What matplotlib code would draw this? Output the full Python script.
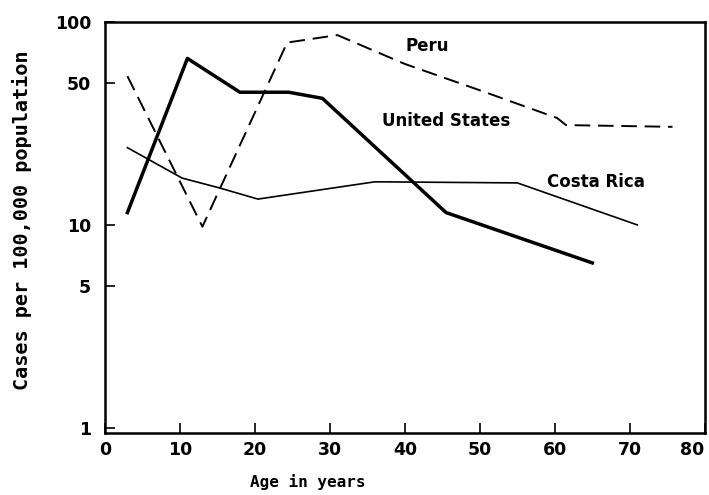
import matplotlib
matplotlib.use("Agg")
import matplotlib.pyplot as plt

us_age = [3, 11, 18, 24.5, 29, 45.5, 65]
us_val = [11.5, 66, 45, 45, 42, 11.5, 6.5]

peru_age = [3, 13, 24.3, 31, 40, 50, 60.3, 61.5, 75.7]
peru_val = [54, 9.8, 79, 86, 62, 46, 33.6, 31, 30.4]

cr_age = [3, 10.3, 15.3, 20.4, 36, 55, 71]
cr_val = [24, 17, 15.2, 13.4, 16.3, 16.1, 10]

x_ticks = [0, 10, 20, 30, 40, 50, 60, 70, 80]
y_ticks = [1, 5, 10, 50, 100]
y_tick_labels = ["1", "5", "10", "50", "100"]

fig = plt.figure(figsize=(7.09, 4.95), dpi=100)
ax = fig.add_axes([0.148, 0.125, 0.846, 0.831])

ax.plot(us_age, us_val, color="black", lw=2.5, solid_joinstyle="round")
ax.plot(peru_age, peru_val, color="black", lw=1.4, dashes=(8, 4))
ax.plot(cr_age, cr_val, color="black", lw=1.2)

ax.set_yscale("log")
ax.set_xlim(0, 80)
ax.set_ylim(0.944, 100)
ax.set_xticks(x_ticks)
ax.set_yticks(y_ticks)
ax.set_yticklabels(y_tick_labels)
ax.minorticks_off()

for s in ax.spines.values():
    s.set_linewidth(1.8)

ax.tick_params(axis="both", direction="in", length=7, width=1.2, labelsize=12.5)
ax.tick_params(axis="x", pad=6)
ax.tick_params(axis="y", pad=10)
for lab in ax.get_xticklabels() + ax.get_yticklabels():
    lab.set_fontweight("bold")
xl = ax.get_xticklabels()
xl[-1].set_horizontalalignment("right")

ax.text(43, 76, "Peru", fontsize=12, fontweight="bold", ha="center", va="center")
ax.text(45.5, 32.5, "United States", fontsize=12, fontweight="bold", ha="center", va="center")
ax.text(65.5, 16.3, "Costa Rica", fontsize=12, fontweight="bold", ha="center", va="center")

fig.text(308 / 709, 1 - 482 / 495, "Age in years", fontsize=11.5, fontweight="bold",
         family="DejaVu Sans Mono", ha="center", va="center")
fig.text(22 / 709, 1 - 220 / 495, "Cases per 100,000 population", fontsize=14.5,
         fontweight="bold", family="DejaVu Sans Mono", ha="center", va="center",
         rotation=90)

fig.savefig("out.png", dpi=100)
